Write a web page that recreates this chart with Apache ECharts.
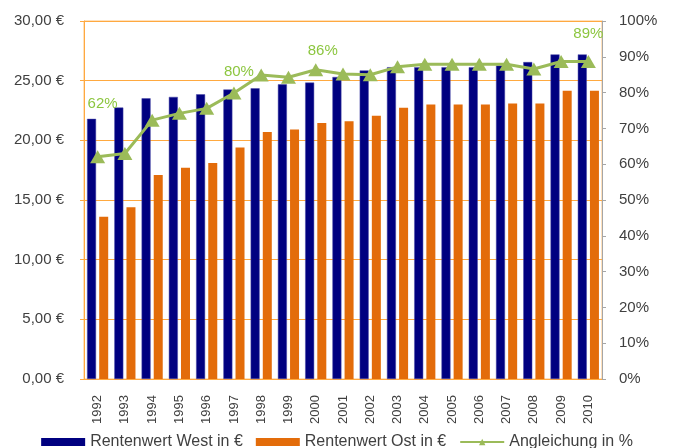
<!DOCTYPE html>
<html>
<head>
<meta charset="utf-8">
<script src="https://cdn.jsdelivr.net/npm/echarts@6/dist/echarts.min.js"></script>
<style>html,body{margin:0;padding:0;background:#fff}#c{width:674px;height:448px}</style>
</head>
<body>
<div id="c"></div>
<script>
var years = ['1992','1993','1994','1995','1996','1997','1998','1999','2000','2001','2002','2003','2004','2005','2006','2007','2008','2009','2010'];
var west = [21.80, 22.75, 23.52, 23.64, 23.86, 24.26, 24.36, 24.69, 24.84, 25.31, 25.86, 26.13, 26.13, 26.13, 26.13, 26.27, 26.56, 27.20, 27.20];
var ost = [13.60, 14.40, 17.10, 17.70, 18.10, 19.40, 20.70, 20.90, 21.45, 21.60, 22.05, 22.74, 23.00, 23.00, 23.00, 23.08, 23.08, 24.15, 24.15];
var angleichung = [62.1, 63.0, 72.3, 74.2, 75.6, 79.9, 84.9, 84.3, 86.4, 85.2, 85.0, 87.2, 87.9, 87.9, 87.9, 87.9, 86.6, 88.7, 88.7];
var seriesNames = ['Rentenwert West in €', 'Rentenwert Ost in €', 'Angleichung in %'];

var labelOffsets = {0: [5, -53], 5: [5, -21], 8: [7, -19], 18: [0, -28]};
var FONT = 'Liberation Sans, Arial, sans-serif';
var TXT = '#404040';

var pctData = angleichung.map(function (v, i) {
  var item = {value: v / 100};
  if (labelOffsets[i]) {
    item.label = {
      show: true, position: 'inside', offset: labelOffsets[i],
      formatter: function (p) { return Math.round(p.value * 100) + '%'; },
      color: '#8CC63F', fontSize: 15, fontFamily: FONT
    };
  }
  return item;
});

var chart = echarts.init(document.getElementById('c'), null, {renderer: 'canvas'});
chart.setOption({
  animation: false,
  backgroundColor: '#fff',
  grid: {left: 84, right: 72, top: 21, bottom: 69, show: true, borderColor: '#FFC27A', borderWidth: 1, containLabel: false},
  legend: {
    bottom: -7, left: 'center',
    itemWidth: 44, itemHeight: 8, itemGap: 13,
    textStyle: {fontSize: 16, color: TXT, fontFamily: FONT},
    data: [
      {name: seriesNames[0], icon: 'rect', itemStyle: {borderWidth: 0}},
      {name: seriesNames[1], icon: 'rect', itemStyle: {borderWidth: 0}},
      {name: seriesNames[2]}
    ]
  },
  xAxis: {
    type: 'category', data: years,
    axisLine: {lineStyle: {color: '#FFA940'}},
    axisTick: {show: false},
    axisLabel: {rotate: 90, fontSize: 13, color: TXT, fontFamily: FONT, margin: 16}
  },
  yAxis: [{
    type: 'value', min: 0, max: 30, interval: 5,
    axisLine: {show: true, lineStyle: {color: '#FFA940'}},
    axisTick: {show: true, inside: false, length: 4, lineStyle: {color: '#FFA940'}},
    splitLine: {lineStyle: {color: '#FFA940', width: 1}},
    axisLabel: {fontSize: 15, color: TXT, fontFamily: FONT, margin: 20,
      formatter: function (v) { return v.toFixed(2).replace('.', ',') + ' €'; }}
  }, {
    type: 'value', min: 0, max: 1, interval: 0.1, position: 'right',
    axisLine: {show: true, lineStyle: {color: '#A6A6A6'}},
    axisTick: {show: true, length: 4, lineStyle: {color: '#A6A6A6'}},
    splitLine: {show: false},
    axisLabel: {fontSize: 15, color: TXT, fontFamily: FONT, margin: 17,
      formatter: function (v) { return Math.round(v * 100) + '%'; }}
  }],
  series: [{
    name: seriesNames[0], type: 'bar', data: west, barWidth: 9, barGap: '35%',
    itemStyle: {color: '#000080', borderColor: '#4A4AA8', borderWidth: 0.5}
  }, {
    name: seriesNames[1], type: 'bar', data: ost, barWidth: 9,
    itemStyle: {color: '#E36C0A'}
  }, {
    name: seriesNames[2], type: 'line', yAxisIndex: 1, data: pctData,
    symbol: 'triangle', symbolSize: [15, 13],
    lineStyle: {color: '#9BBB59', width: 3},
    itemStyle: {color: '#9BBB59'},
    z: 5
  }]
});
</script>
</body>
</html>
